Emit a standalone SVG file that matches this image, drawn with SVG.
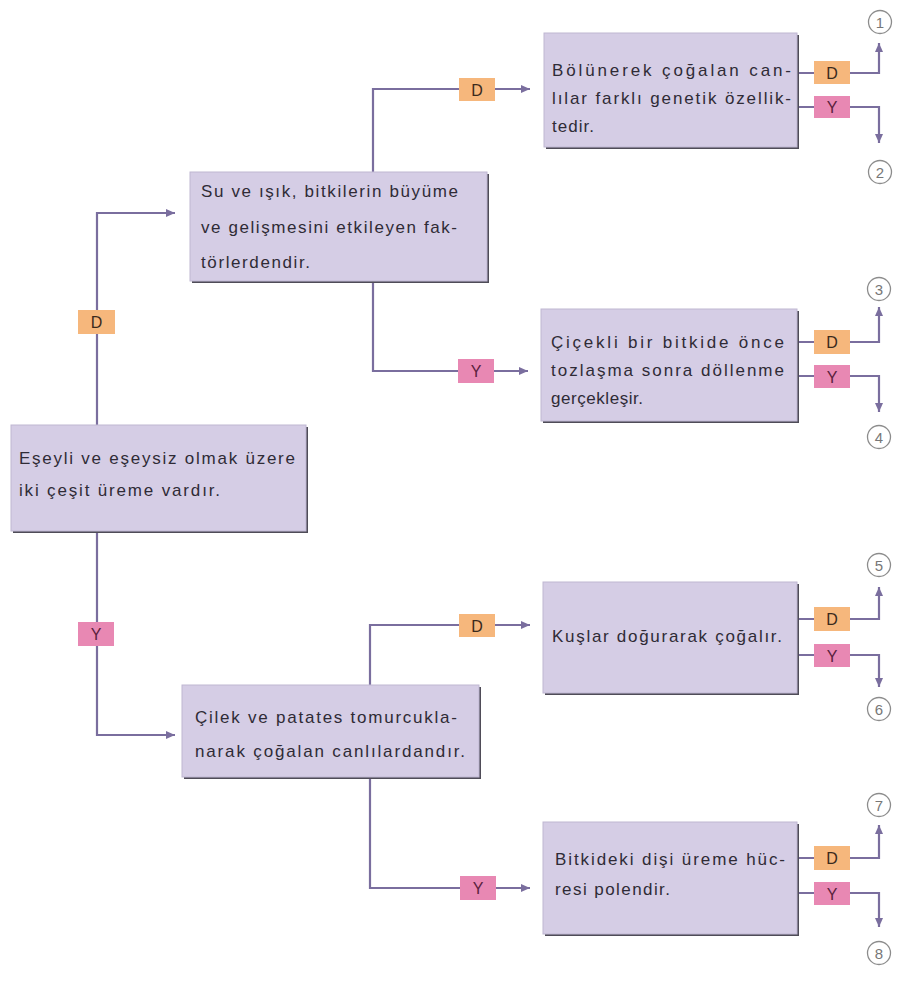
<svg xmlns="http://www.w3.org/2000/svg" width="899" height="985" viewBox="0 0 899 985">
  <defs>
    <marker id="arrow" markerUnits="userSpaceOnUse" markerWidth="10" markerHeight="8" refX="9" refY="4" orient="auto">
      <path d="M0,0 L9,4 L0,8 z" fill="#7a6e9e"/>
    </marker>
  </defs>
  <style>
    .shadow { fill: #4f4c58; }
    .box { fill: #d5cde5; stroke: #bfb7d2; stroke-width: 1; }
    .txt { font-family: "Liberation Sans", Arial, sans-serif; font-size: 17px; fill: #2f2b36; }
    .wire { fill: none; stroke: #7a6e9e; stroke-width: 2.2; }
    .lblD { fill: #f6b77c; }
    .lblY { fill: #e888b3; }
    .ltxt { font-family: "Liberation Sans", Arial, sans-serif; font-size: 16px; text-anchor: middle; }
    .ltD { fill: #3b2a1c; }
    .ltY { fill: #5a1f3d; }
    .num { fill: #ffffff; stroke: #8c8c8c; stroke-width: 1.3; }
    .ntxt { font-family: "Liberation Sans", Arial, sans-serif; font-size: 15px; fill: #777777; text-anchor: middle; }
  </style>
  <rect width="899" height="985" fill="#ffffff"/>

  <!-- connectors -->
  <g id="connectors">
    <polyline class="wire" points="97,425 97,213 175,213" marker-end="url(#arrow)"/>
    <polyline class="wire" points="97,531 97,735 175,735" marker-end="url(#arrow)"/>
    <polyline class="wire" points="373,172 373,89 530,89" marker-end="url(#arrow)"/>
    <polyline class="wire" points="373,281 373,371 528,371" marker-end="url(#arrow)"/>
    <polyline class="wire" points="370,685 370,625 530,625" marker-end="url(#arrow)"/>
    <polyline class="wire" points="370,777 370,888 530,888" marker-end="url(#arrow)"/>

    <polyline class="wire" points="797,73 879,73 879,43" marker-end="url(#arrow)"/>
    <polyline class="wire" points="797,107 879,107 879,143" marker-end="url(#arrow)"/>
    <polyline class="wire" points="797,342 879,342 879,307" marker-end="url(#arrow)"/>
    <polyline class="wire" points="797,376 879,376 879,412" marker-end="url(#arrow)"/>
    <polyline class="wire" points="797,619 879,619 879,587" marker-end="url(#arrow)"/>
    <polyline class="wire" points="797,655 879,655 879,687" marker-end="url(#arrow)"/>
    <polyline class="wire" points="797,858 879,858 879,825" marker-end="url(#arrow)"/>
    <polyline class="wire" points="797,893 879,893 879,927" marker-end="url(#arrow)"/>
  </g>

  <!-- D / Y branch labels -->
  <g id="branch-labels">
    <rect class="lblD" x="78" y="310" width="37" height="24"/><text class="ltxt ltD" x="96.5" y="328">D</text>
    <rect class="lblY" x="78" y="622" width="36" height="24"/><text class="ltxt ltY" x="96" y="640">Y</text>
    <rect class="lblD" x="459" y="78" width="36" height="23"/><text class="ltxt ltD" x="477" y="95.5">D</text>
    <rect class="lblY" x="458" y="359" width="36" height="24"/><text class="ltxt ltY" x="476" y="377">Y</text>
    <rect class="lblD" x="459" y="614" width="36" height="23"/><text class="ltxt ltD" x="477" y="631.5">D</text>
    <rect class="lblY" x="460" y="876" width="36" height="24"/><text class="ltxt ltY" x="478" y="894">Y</text>

    <rect class="lblD" x="814" y="61" width="36" height="23"/><text class="ltxt ltD" x="832" y="78.5">D</text>
    <rect class="lblY" x="814" y="96" width="36" height="22"/><text class="ltxt ltY" x="832" y="113">Y</text>
    <rect class="lblD" x="814" y="330" width="36" height="24"/><text class="ltxt ltD" x="832" y="348">D</text>
    <rect class="lblY" x="814" y="365" width="36" height="23"/><text class="ltxt ltY" x="832" y="382.5">Y</text>
    <rect class="lblD" x="814" y="607" width="36" height="24"/><text class="ltxt ltD" x="832" y="625">D</text>
    <rect class="lblY" x="814" y="644" width="36" height="23"/><text class="ltxt ltY" x="832" y="661.5">Y</text>
    <rect class="lblD" x="814" y="846" width="36" height="24"/><text class="ltxt ltD" x="832" y="864">D</text>
    <rect class="lblY" x="814" y="882" width="36" height="23"/><text class="ltxt ltY" x="832" y="899.5">Y</text>
  </g>

  <!-- statement boxes -->
  <g id="node-ureme">
    <rect class="shadow" x="13" y="427" width="295" height="106"/>
    <rect class="box" x="11" y="425" width="295" height="106"/>
    <text class="txt" x="19" y="464" textLength="276" lengthAdjust="spacing">Eşeyli ve eşeysiz olmak üzere</text>
    <text class="txt" x="19" y="496" textLength="201" lengthAdjust="spacing">iki çeşit üreme vardır.</text>
  </g>

  <g id="node-su-isik">
    <rect class="shadow" x="192" y="174" width="297" height="109"/>
    <rect class="box" x="190" y="172" width="297" height="109"/>
    <text class="txt" x="201" y="197" textLength="257" lengthAdjust="spacing">Su ve ışık, bitkilerin büyüme</text>
    <text class="txt" x="201" y="233" textLength="256" lengthAdjust="spacing">ve gelişmesini etkileyen fak-</text>
    <text class="txt" x="201" y="268" textLength="109" lengthAdjust="spacing">törlerdendir.</text>
  </g>

  <g id="node-cilek">
    <rect class="shadow" x="184" y="687" width="297" height="92"/>
    <rect class="box" x="182" y="685" width="297" height="92"/>
    <text class="txt" x="195" y="723" textLength="262" lengthAdjust="spacing">Çilek ve patates tomurcukla-</text>
    <text class="txt" x="195" y="757" textLength="270" lengthAdjust="spacing">narak çoğalan canlılardandır.</text>
  </g>

  <g id="node-bolunerek">
    <rect class="shadow" x="546" y="35" width="253" height="114"/>
    <rect class="box" x="544" y="33" width="253" height="114"/>
    <text class="txt" x="552" y="76" textLength="239" lengthAdjust="spacing">Bölünerek çoğalan can-</text>
    <text class="txt" x="552" y="104" textLength="239" lengthAdjust="spacing">lılar farklı genetik özellik-</text>
    <text class="txt" x="552" y="132" textLength="42" lengthAdjust="spacing">tedir.</text>
  </g>

  <g id="node-cicekli">
    <rect class="shadow" x="543" y="311" width="256" height="112"/>
    <rect class="box" x="541" y="309" width="256" height="112"/>
    <text class="txt" x="551" y="348" textLength="233" lengthAdjust="spacing">Çiçekli bir bitkide önce</text>
    <text class="txt" x="551" y="376" textLength="233" lengthAdjust="spacing">tozlaşma sonra döllenme</text>
    <text class="txt" x="551" y="404" textLength="92" lengthAdjust="spacing">gerçekleşir.</text>
  </g>

  <g id="node-kuslar">
    <rect class="shadow" x="545" y="584" width="254" height="111"/>
    <rect class="box" x="543" y="582" width="254" height="111"/>
    <text class="txt" x="552" y="642" textLength="230" lengthAdjust="spacing">Kuşlar doğurarak çoğalır.</text>
  </g>

  <g id="node-bitkideki">
    <rect class="shadow" x="545" y="824" width="254" height="112"/>
    <rect class="box" x="543" y="822" width="254" height="112"/>
    <text class="txt" x="555" y="865" textLength="230" lengthAdjust="spacing">Bitkideki dişi üreme hüc-</text>
    <text class="txt" x="555" y="895" textLength="115" lengthAdjust="spacing">resi polendir.</text>
  </g>

  <!-- numbered outcomes -->
  <g id="outcome-1"><circle class="num" cx="880" cy="22" r="11.5"/><text class="ntxt" x="880" y="27.5">1</text></g>
  <g id="outcome-2"><circle class="num" cx="880" cy="172" r="11.5"/><text class="ntxt" x="880" y="177.5">2</text></g>
  <g id="outcome-3"><circle class="num" cx="879" cy="289" r="11.5"/><text class="ntxt" x="879" y="294.5">3</text></g>
  <g id="outcome-4"><circle class="num" cx="879" cy="437" r="11.5"/><text class="ntxt" x="879" y="442.5">4</text></g>
  <g id="outcome-5"><circle class="num" cx="879" cy="565" r="11.5"/><text class="ntxt" x="879" y="570.5">5</text></g>
  <g id="outcome-6"><circle class="num" cx="879" cy="709" r="11.5"/><text class="ntxt" x="879" y="714.5">6</text></g>
  <g id="outcome-7"><circle class="num" cx="879" cy="805" r="11.5"/><text class="ntxt" x="879" y="810.5">7</text></g>
  <g id="outcome-8"><circle class="num" cx="879" cy="953" r="11.5"/><text class="ntxt" x="879" y="958.5">8</text></g>
</svg>
